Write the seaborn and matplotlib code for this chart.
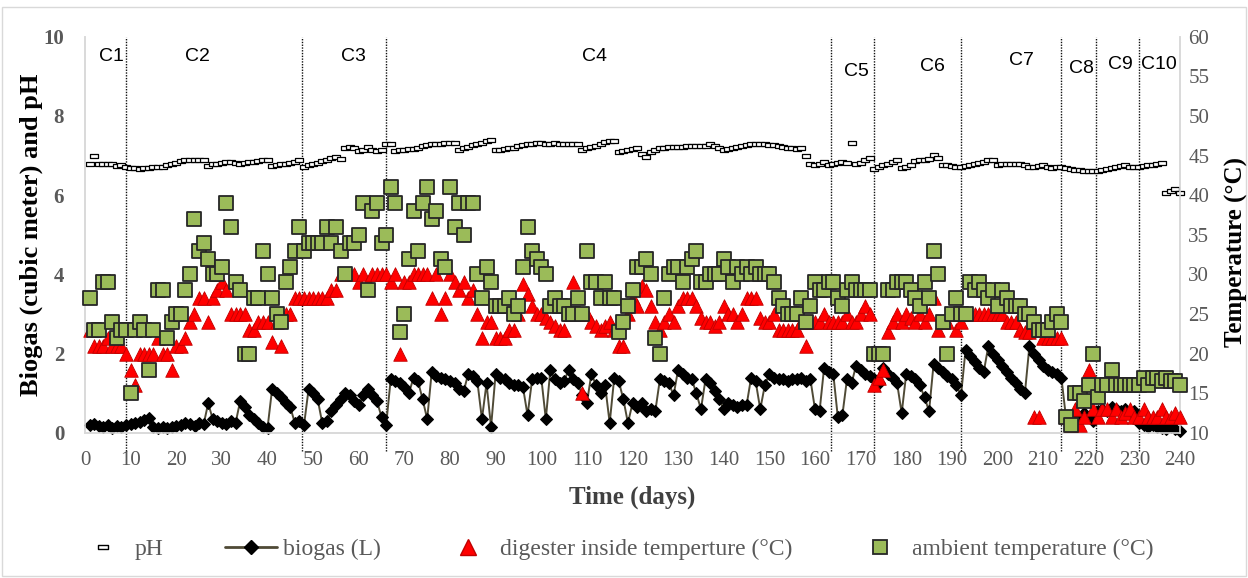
import numpy as np
import pandas as pd
import matplotlib
matplotlib.use("Agg")
import matplotlib.pyplot as plt
from matplotlib.lines import Line2D
from matplotlib.path import Path
from matplotlib.patches import Rectangle
import seaborn as sns

# ---------------- data ----------------
days = list(range(1, 241))

ph = [
    6.78, 7.00, 6.80, 6.80, 6.80, 6.78, 6.74, 6.76, 6.70, 6.68,
    6.68, 6.67, 6.68, 6.68, 6.70, 6.70, 6.72, 6.76, 6.80, 6.82,
    6.86, 6.88, 6.88, 6.90, 6.90, 6.88, 6.74, 6.78, 6.80, 6.82,
    6.84, 6.85, 6.82, 6.80, 6.82, 6.84, 6.85, 6.86, 6.88, 6.88,
    6.74, 6.76, 6.78, 6.80, 6.82, 6.85, 6.88, 6.72, 6.75, 6.78,
    6.82, 6.86, 6.90, 6.94, 6.96, 6.92, 7.18, 7.22, 7.18, 7.12,
    7.15, 7.22, 7.14, 7.12, 7.14, 7.30, 7.30, 7.12, 7.14, 7.15,
    7.16, 7.17, 7.18, 7.25, 7.26, 7.28, 7.30, 7.30, 7.31, 7.32,
    7.32, 7.15, 7.18, 7.22, 7.26, 7.30, 7.32, 7.36, 7.40, 7.13,
    7.15, 7.17, 7.20, 7.20, 7.24, 7.27, 7.30, 7.30, 7.31, 7.32,
    7.30, 7.30, 7.31, 7.30, 7.30, 7.30, 7.28, 7.30, 7.14, 7.20,
    7.22, 7.25, 7.30, 7.35, 7.36, 7.36, 7.10, 7.12, 7.15, 7.16,
    7.18, 7.05, 6.97, 7.08, 7.15, 7.18, 7.20, 7.22, 7.22, 7.22,
    7.22, 7.23, 7.24, 7.24, 7.25, 7.25, 7.28, 7.25, 7.18, 7.15,
    7.16, 7.20, 7.22, 7.25, 7.27, 7.28, 7.28, 7.28, 7.28, 7.27,
    7.26, 7.25, 7.22, 7.20, 7.18, 7.16, 7.20, 7.00, 6.78, 6.76,
    6.80, 6.83, 6.76, 6.78, 6.82, 6.84, 6.82, 7.32, 6.78, 6.82,
    6.88, 6.95, 6.66, 6.72, 6.75, 6.80, 6.84, 6.88, 6.68, 6.72,
    6.76, 6.86, 6.88, 6.90, 6.92, 7.02, 6.94, 6.75, 6.75, 6.74,
    6.72, 6.72, 6.74, 6.76, 6.80, 6.82, 6.85, 6.88, 6.90, 6.76,
    6.78, 6.78, 6.80, 6.80, 6.78, 6.76, 6.72, 6.72, 6.74, 6.76,
    6.70, 6.68, 6.70, 6.72, 6.68, 6.66, 6.64, 6.63, 6.62, 6.60,
    6.60, 6.62, 6.64, 6.66, 6.68, 6.70, 6.74, 6.76, 6.72, 6.70,
    6.72, 6.73, 6.75, 6.76, 6.78, 6.82, 6.05, 6.10, 6.15, 6.05,
]

biogas = [
    0.20, 0.22, 0.18, 0.15, 0.20, 0.12, 0.18, 0.15, 0.20, 0.22,
    0.25, 0.28, 0.32, 0.38, 0.15, 0.12, 0.14, 0.12, 0.15, 0.18,
    0.20, 0.25, 0.22, 0.18, 0.25, 0.22, 0.75, 0.35, 0.30, 0.25,
    0.22, 0.30, 0.25, 0.80, 0.65, 0.45, 0.35, 0.25, 0.15, 0.12,
    1.10, 1.00, 0.90, 0.75, 0.65, 0.25, 0.30, 0.20, 1.10, 1.00,
    0.85, 0.25, 0.30, 0.55, 0.70, 0.85, 1.00, 0.95, 0.80, 0.70,
    0.95, 1.10, 0.95, 0.80, 0.40, 0.20, 1.35, 1.30, 1.25, 1.15,
    1.00, 1.40, 1.30, 0.85, 0.35, 1.55, 1.45, 1.40, 1.35, 1.30,
    1.25, 1.10, 1.05, 1.50, 1.45, 1.30, 0.35, 1.25, 0.15, 1.50,
    1.40, 1.35, 1.25, 1.20, 1.20, 1.15, 0.45, 1.35, 1.40, 1.40,
    0.35, 1.60, 1.35, 1.25, 1.30, 1.60, 1.35, 1.25, 0.95, 0.75,
    1.50, 1.20, 1.00, 1.20, 0.25, 1.40, 1.30, 0.85, 0.25, 0.75,
    0.65, 0.75, 0.55, 0.60, 0.55, 1.35, 1.30, 1.25, 0.95, 1.60,
    1.50, 1.40, 1.35, 1.00, 0.60, 1.35, 1.25, 1.05, 0.85, 0.60,
    0.75, 0.70, 0.65, 0.70, 0.70, 1.40, 1.30, 0.60, 1.20, 1.50,
    1.40, 1.35, 1.35, 1.30, 1.35, 1.35, 1.40, 1.30, 1.35, 0.60,
    0.55, 1.65, 1.55, 1.50, 0.40, 0.45, 1.35, 1.25, 1.70, 1.60,
    1.50, 1.45, 1.35, 1.25, 1.65, 1.50, 1.40, 1.25, 0.50, 1.50,
    1.45, 1.35, 1.20, 0.90, 0.55, 1.75, 1.65, 1.55, 1.45, 1.35,
    1.20, 0.95, 2.10, 1.95, 1.80, 1.65, 1.55, 2.20, 2.00, 1.85,
    1.70, 1.55, 1.40, 1.25, 1.10, 1.00, 2.20, 2.00, 1.85, 1.70,
    1.60, 1.55, 1.50, 1.40, 0.40, 0.30, 0.45, 0.35, 0.50, 0.40,
    0.30, 0.55, 0.60, 0.55, 0.65, 0.60, 0.55, 0.60, 0.50, 0.55,
    0.25, 0.20, 0.15, 0.20, 0.15, 0.12, 0.10, 0.15, 0.10, 0.05,
]

digester_temp = [
    23, 21, 21, 21, 22, 21, 21, 21, 20, 18,
    16, 20, 20, 20, 20, 22, 20, 20, 18, 21,
    21, 22, 24, 25, 27, 27, 24, 27, 28, 29,
    28, 25, 25, 25, 25, 23, 23, 24, 24, 24,
    21.5, 24, 21, 25, 25, 27, 27, 27, 27, 27,
    27, 27, 27, 28, 28, 30, 30, 30, 30, 29,
    30, 29, 30, 30, 30, 30, 29, 30, 20, 29,
    29, 30, 30, 30, 30, 27, 30, 25, 27, 30,
    29, 28, 29, 27, 28, 25, 22, 24, 24, 22,
    22, 22, 23, 23, 25, 28.8, 27.5, 26, 25, 25,
    24.5, 24, 23.5, 23, 23, 25, 29, 25, 15, 25,
    24, 23.5, 23, 23.5, 24, 23, 21, 21, 25, 27,
    26, 28.5, 28, 26, 24, 23, 24, 25, 24, 26,
    27, 27, 27, 26, 24.5, 24, 24, 23.5, 24, 26,
    25, 25, 24, 25, 27, 27, 27, 24.5, 24, 24,
    25, 23, 23, 23, 23, 23, 24, 21, 24, 24,
    24, 25, 24, 24, 24, 24, 25, 24, 24, 25,
    26, 25, 16, 17, 18, 22.8, 24, 25, 24, 25,
    24.5, 24, 25, 24, 25, 27, 23, 24, 24, 25,
    23, 24, 25, 25, 25, 25, 25, 25, 25, 25,
    25, 24, 24, 24, 23, 22.8, 22.8, 12, 12, 22,
    22, 22, 22, 22, 12, 11, 13, 11, 12, 18,
    13, 12, 13, 13, 12, 13, 12, 12.5, 13, 12,
    12, 13, 12, 12, 12, 13, 12, 12, 12.5, 12,
]

ambient_temp = [
    27, 23, 23, 29, 29, 24, 22, 23, 23, 15,
    23, 24, 23, 18, 23, 28, 28, 22, 24, 25,
    25, 28, 30, 37, 33, 34, 32, 30, 30, 31,
    39, 36, 29, 28, 20, 20, 27, 27, 33, 30,
    27, 25, 24, 29, 31, 33, 36, 33, 34, 34,
    34, 34, 36, 34, 36, 33, 30, 34, 34, 35,
    39, 28, 38, 39, 34, 35, 41, 39, 22.8, 25,
    32, 38, 33, 39, 41, 37, 38, 32, 31, 41,
    36, 39, 35, 39, 39, 30, 27, 31, 29, 26,
    26, 26, 27, 25, 26, 31, 36, 33, 32, 31,
    30, 26, 27, 26, 26, 25, 25, 27, 25, 33,
    29, 29, 27, 29, 27, 27, 22.8, 24, 26, 28,
    31, 31, 32, 30, 22, 20, 27, 30, 31, 31,
    29, 31, 32, 33, 29, 29, 30, 30, 30, 32,
    31, 29, 31, 30, 31, 30, 31, 30, 30, 30,
    29, 27, 26, 25, 25, 25, 27, 24, 26, 29,
    28, 28, 29, 29, 27, 26, 28, 29, 28, 28,
    28, 28, 20, 20, 20, 28, 28, 29, 29, 29,
    28, 27, 26, 29, 27, 33, 30, 24, 20, 25,
    27, 25, 25, 29, 28, 29, 28, 27, 28, 26,
    28, 27, 26, 26, 26, 25, 25, 24, 23, 23,
    23, 24, 25, 24, 12, 11, 15, 15, 14, 16,
    20, 14.5, 16, 16, 18, 16, 16, 16, 16, 16,
    16, 17, 16, 17, 17, 16.5, 17, 16.5, 16.5, 16,
]

cycle_bounds = [9, 47.5, 66, 163.5, 173, 192, 214, 221.5, 231]
cycle_labels = ["C1", "C2", "C3", "C4", "C5", "C6", "C7", "C8", "C9", "C10"]
cycle_label_x = [5.9, 24.7, 58.9, 111.7, 169.0, 185.7, 205.2, 218.3, 226.9, 235.4]
cycle_label_y = [9.49, 9.49, 9.49, 9.49, 9.13, 9.26, 9.39, 9.19, 9.31, 9.31]

x_ticks = list(range(0, 241, 10))
left_ticks = [0, 2, 4, 6, 8, 10]
right_ticks = [10, 15, 20, 25, 30, 35, 40, 45, 50, 55, 60]

df = pd.DataFrame({"day": days, "pH": ph, "biogas": biogas,
                   "digester": digester_temp, "ambient": ambient_temp})

# ---------------- style ----------------
sns.set_theme(style="white")
plt.rcParams["font.family"] = ["Liberation Serif", "DejaVu Serif"]

GREY = "#595959"
fig = plt.figure(figsize=(12.48, 5.78), dpi=100)
ax = fig.add_axes([85 / 1248, 1 - 433 / 578, (1180 - 85) / 1248, (433 - 36.7) / 578])
ax2 = ax.twinx()

ph_marker = Path([(-1, -0.42), (1, -0.42), (1, 0.42), (-1, 0.42), (-1, -0.42)],
                 [Path.MOVETO, Path.LINETO, Path.LINETO, Path.LINETO, Path.CLOSEPOLY])

# cycle boundaries
for b in cycle_bounds:
    ax.plot([b, b], [-0.45, 10], ls=(0, (1.0, 1.0)), color="#111111", lw=1.0,
            clip_on=False, zorder=1)
for lab, cx, cy in zip(cycle_labels, cycle_label_x, cycle_label_y):
    ax.text(cx, cy, lab, ha="center", va="center", fontsize=14,
            family=["Liberation Sans", "DejaVu Sans"], color="black")

# primary axis series
sns.scatterplot(data=df, x="day", y="pH", ax=ax, marker=ph_marker, s=40,
                facecolor="white", edgecolor="black", linewidth=0.9,
                zorder=3, clip_on=False, legend=False)
sns.lineplot(data=df, x="day", y="biogas", ax=ax, color="#4f4a36", lw=1.4,
             marker="D", markersize=6.5, markerfacecolor="black",
             markeredgecolor="black", zorder=4, clip_on=False, legend=False)

# secondary axis series
sns.scatterplot(data=df, x="day", y="digester", ax=ax2, marker="^", s=95,
                color="#ff0000", edgecolor="#c00000", linewidth=0.6,
                zorder=3, clip_on=False, legend=False)
sns.scatterplot(data=df, x="day", y="ambient", ax=ax2, marker="s", s=110,
                color="#9bbb59", edgecolor="#262626", linewidth=1.3,
                zorder=4, clip_on=False, legend=False)

ax.set_xlim(0, 240)
ax.set_ylim(0, 10)
ax2.set_ylim(10, 60)
ax.set_xticks(x_ticks)
ax.set_yticks(left_ticks)
ax2.set_yticks(right_ticks)
ax.set_xlabel("")
ax.set_ylabel("")
ax2.set_ylabel("")

ax.tick_params(axis="x", length=0, pad=13, labelsize=15, labelcolor=GREY)
ax.tick_params(axis="y", length=0, pad=15, labelsize=15, labelcolor=GREY)
for t in ax.get_yticklabels():
    t.set_fontweight("bold")
ax2.tick_params(axis="y", length=0, pad=6, labelsize=15, labelcolor=GREY)

for a in (ax, ax2):
    a.spines["top"].set_visible(False)
    for side in ("left", "bottom", "right"):
        a.spines[side].set_color("#d9d9d9")
        a.spines[side].set_linewidth(1.2)
ax.grid(False)
ax2.grid(False)

fig.text(31 / 1248, 1 - 235 / 578, "Biogas (cubic meter) and pH", rotation=90,
         ha="center", va="center", fontsize=19, fontweight="bold", color="black")
fig.text(1236 / 1248, 1 - 252 / 578, "Temperature (°C)", rotation=90,
         ha="center", va="center", fontsize=18, fontweight="bold", color="black")
fig.text(632 / 1248, 1 - 497 / 578, "Time (days)", ha="center", va="center",
         fontsize=18, fontweight="bold", color="#404040")

handles = [
    Line2D([], [], ls="none", marker=ph_marker, markersize=7,
           markerfacecolor="white", markeredgecolor="black", markeredgewidth=1.0),
    Line2D([], [], color="#4f4a36", lw=2, marker="D", markersize=7.5,
           markerfacecolor="black", markeredgecolor="black"),
    Line2D([], [], ls="none", marker="^", markersize=11, markerfacecolor="#ff0000",
           markeredgecolor="#c00000"),
    Line2D([], [], ls="none", marker="s", markersize=10, markerfacecolor="#9bbb59",
           markeredgecolor="#262626", markeredgewidth=1.3),
]
labels = ["pH", "biogas (L)", "digester inside temperture (°C)",
          "ambient temperature (°C)"]
leg = fig.legend(handles, labels, loc="center", bbox_to_anchor=(0.4928, 1 - 549 / 578),
                 ncol=4, frameon=False, fontsize=17, handlelength=2.2,
                 columnspacing=2.6, handletextpad=0.25)
for t in leg.get_texts():
    t.set_color(GREY)

fig.patches.append(Rectangle((0.002, 0.003), 0.996, 0.985, transform=fig.transFigure,
                             fill=False, edgecolor="#d9d9d9", lw=1.0))

fig.savefig("out.png", dpi=100)
